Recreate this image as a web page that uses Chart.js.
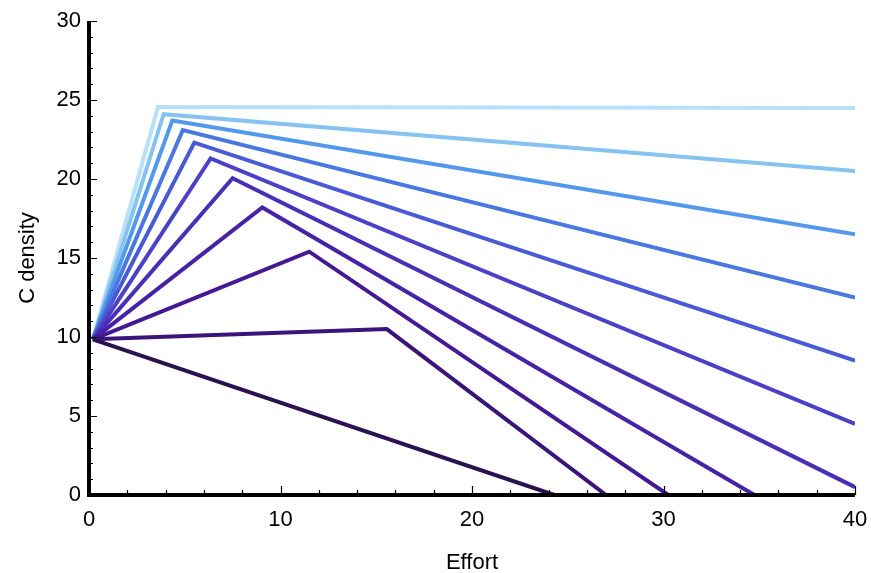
<!DOCTYPE html>
<html>
<head>
<meta charset="utf-8">
<script src="https://cdn.jsdelivr.net/npm/chart.js@4.4.1/dist/chart.umd.min.js"></script>
<style>
  html, body { margin: 0; padding: 0; background: #fff; }
  #wrap { width: 871px; height: 573px; }
</style>
</head>
<body>
<div id="wrap"><canvas id="grafico"></canvas></div>
<script>
// every curve starts at the same point, rises to a peak, then falls
const startPoint = [0.2, 9.85];
const peakEffort  = [null, 15.55, 11.5, 9.05, 7.5, 6.35, 5.5, 4.9, 4.35, 3.9, 3.6];
const peakDensity = [null, 10.5, 15.4, 18.2, 20.05, 21.3, 22.3, 23.1, 23.7, 24.1, 24.55];
const endEffort   = [24.3, 27.0, 30.25, 34.75, 40, 40, 40, 40, 40, 40, 40];
const endDensity  = [0, 0, 0, 0, 0.5, 4.5, 8.5, 12.5, 16.5, 20.5, 24.5];
const cores = [
    '#2c1150', '#3a1478', '#431a93', '#4722a6', '#4a2fb6', '#4a41c6',
    '#4a59d4', '#4a78e0', '#529ae9', '#86c3f1', '#b8e1f8'
];

const xTicks = [0, 10, 20, 30, 40];
const yTicks = [0, 5, 10, 15, 20, 25, 30];

const fonte = 'Liberation Sans, Arial, Helvetica, sans-serif';

const datasets = endEffort.map((ex, i) => {
    const pts = [{ x: startPoint[0], y: startPoint[1] }];
    if (peakEffort[i] !== null) pts.push({ x: peakEffort[i], y: peakDensity[i] });
    pts.push({ x: ex, y: endDensity[i] });
    return {
        data: pts,
        showLine: true,
        borderColor: cores[i],
        backgroundColor: cores[i],
        borderWidth: 4,
        borderJoinStyle: 'miter',
        borderCapStyle: 'butt',
        pointRadius: 0,
        tension: 0
    };
});

// ticks point inward, with minor ticks between the labelled ones
const ticksInternos = {
    id: 'ticksInternos',
    afterDatasetsDraw(chart) {
        const ctx = chart.ctx;
        const x = chart.scales.x, y = chart.scales.y;
        const x0 = x.getPixelForValue(0), y0 = y.getPixelForValue(0);
        ctx.save();
        ctx.strokeStyle = '#000';
        ctx.lineWidth = 1.2;
        ctx.beginPath();
        for (let v = 0; v <= 40; v += 2) {
            const px = Math.round(x.getPixelForValue(v)) + 0.5;
            const len = v % 10 === 0 ? 9 : 5;
            ctx.moveTo(px, y0);
            ctx.lineTo(px, y0 - len);
        }
        for (let v = 0; v <= 30; v += 1) {
            const py = Math.round(y.getPixelForValue(v)) + 0.5;
            const len = v % 5 === 0 ? 8 : 4;
            ctx.moveTo(x0, py);
            ctx.lineTo(x0 + len, py);
        }
        ctx.stroke();
        // heavy axis lines
        ctx.lineWidth = 4;
        ctx.beginPath();
        ctx.moveTo(x0, y.getPixelForValue(30));
        ctx.lineTo(x0, y0);
        ctx.lineTo(x.getPixelForValue(40), y0);
        ctx.stroke();
        ctx.restore();
    }
};

new Chart(document.getElementById('grafico'), {
    type: 'scatter',
    data: { datasets },
    options: {
        responsive: true,
        maintainAspectRatio: false,
        animation: false,
        layout: { padding: { left: 0, right: 16, top: 21, bottom: 0 } },
        plugins: {
            legend: { display: false },
            tooltip: { enabled: false }
        },
        scales: {
            x: {
                type: 'linear',
                min: 0,
                max: 40,
                afterFit: (s) => { s.height = 78; s.paddingLeft = 0; s.paddingRight = 0; },
                afterBuildTicks: (s) => { s.ticks = xTicks.map(v => ({ value: v })); },
                grid: { display: false, drawTicks: false },
                border: { display: false },
                ticks: {
                    padding: 12,
                    color: '#000',
                    font: { family: fonte, size: 22 }
                },
                title: {
                    display: true,
                    text: 'Effort',
                    color: '#000',
                    font: { family: fonte, size: 22 },
                    padding: { top: 0, bottom: -3 }
                }
            },
            y: {
                type: 'linear',
                min: 0,
                max: 30,
                afterFit: (s) => { s.width = 89; s.paddingTop = 0; s.paddingBottom = 0; },
                afterBuildTicks: (s) => { s.ticks = yTicks.map(v => ({ value: v })); },
                grid: { display: false, drawTicks: false },
                border: { display: false },
                ticks: {
                    padding: 8,
                    color: '#000',
                    font: { family: fonte, size: 22 }
                },
                title: {
                    display: true,
                    text: 'C density',
                    color: '#000',
                    font: { family: fonte, size: 22 },
                    padding: { top: 15, bottom: 0 }
                }
            }
        }
    },
    plugins: [ticksInternos]
});
</script>
</body>
</html>
